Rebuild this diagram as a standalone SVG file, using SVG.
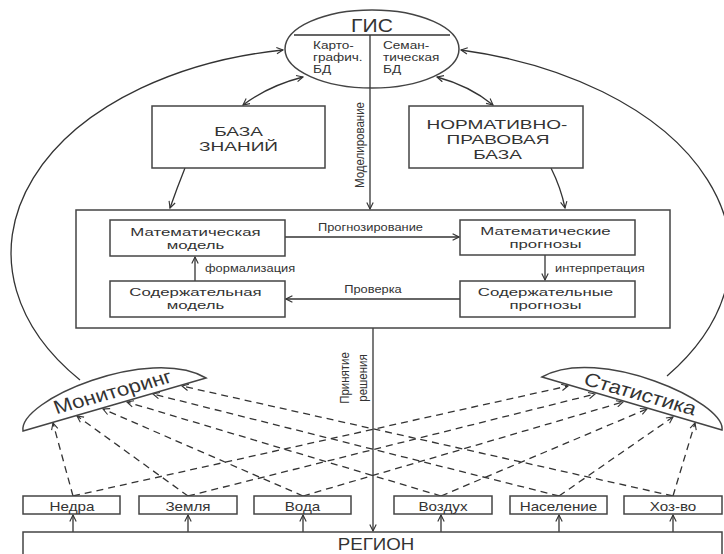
<svg xmlns="http://www.w3.org/2000/svg" width="724" height="554" viewBox="0 0 724 554">
<defs>
<marker id="ah" viewBox="0 0 10 10" refX="9" refY="5" markerWidth="8" markerHeight="8" markerUnits="userSpaceOnUse" orient="auto-start-reverse">
<path d="M1,1 L9,5 L1,9" fill="none" stroke="#333" stroke-width="1.4"/>
</marker>
</defs>
<style>
text{font-family:"Liberation Sans",Arial,sans-serif;fill:#333}
.s{transform-box:fill-box;transform-origin:center;transform:scaleX(1.17)}
.s2{transform-box:fill-box;transform-origin:center;transform:scaleX(1.42)}
.s3{transform-box:fill-box;transform-origin:center;transform:scaleX(1.45)}
.sl{transform-box:fill-box;transform-origin:left center;transform:scaleX(1.17)}
.sd{transform-box:fill-box;transform-origin:left center;transform:scaleX(1.27)}
.c{text-anchor:middle}
.box{fill:#fff;stroke:#444;stroke-width:1.5}
.ln{fill:none;stroke:#333;stroke-width:1.3}
.ar{fill:none;stroke:#333;stroke-width:1.3;marker-end:url(#ah)}
.bi{fill:none;stroke:#333;stroke-width:1.3;marker-end:url(#ah);marker-start:url(#ah)}
.da{fill:none;stroke:#333;stroke-width:1.3;stroke-dasharray:7 5;marker-end:url(#ah)}
.big{font-size:13.4px}
.mid{font-size:11.6px}
.sm{font-size:11px}
.db{font-size:10.7px}
.rt{font-size:11.5px}
.reg{font-size:13px}
</style>

<g id="connectors">
<path class="ar" d="M80,380 A323,205.6 0 0 1 283,50"/>
<path class="ar" d="M667,376 A345.6,210 0 0 0 461,50"/>
<path class="bi" d="M303,77 Q268,86 243,105"/>
<path class="bi" d="M437,77 Q470,86 493,105"/>
<path class="ar" d="M185,168 Q177,188 170,208"/>
<path class="ar" d="M551,168 Q561,188 565,208"/>
<path class="ar" d="M370,87 L370,209"/>
<path class="ar" d="M285,237 L459,237"/>
<path class="ar" d="M545,255 L545,280"/>
<path class="ar" d="M460,299 L286,299"/>
<path class="ar" d="M195,281 L195,257"/>
<path class="ar" d="M373,328 L373,531"/>
<path class="ar" d="M73,532 L73,515"/>
<path class="ar" d="M188,532 L188,515"/>
<path class="ar" d="M303,532 L303,515"/>
<path class="ar" d="M441,532 L441,515"/>
<path class="ar" d="M559,532 L559,515"/>
<path class="ar" d="M673,532 L673,515"/>
<path class="da" d="M73,496 L53,423"/>
<path class="da" d="M188,496 L77,416"/>
<path class="da" d="M303,496 L103,409"/>
<path class="da" d="M441,496 L127,402"/>
<path class="da" d="M559,496 L153,394"/>
<path class="da" d="M673,496 L182,386"/>
<path class="da" d="M73,496 L568,386"/>
<path class="da" d="M188,496 L595,394"/>
<path class="da" d="M303,496 L623,402"/>
<path class="da" d="M441,496 L647,409"/>
<path class="da" d="M559,496 L673,417"/>
<path class="da" d="M673,496 L695,423"/>
<text class="sm c s" x="370.5" y="231">Прогнозирование</text>
<text class="sm c s" x="373" y="293">Проверка</text>
<text class="sm sl" x="205" y="272">формализация</text>
<text class="sm sl" x="555" y="272">интерпретация</text>
<text class="rt c" transform="translate(364,145) scale(1.17,1) rotate(-90)">Моделирование</text>
<text class="rt c" transform="translate(349,378) scale(1.17,1) rotate(-90)">Принятие</text>
<text class="rt c" transform="translate(367,378) scale(1.17,1) rotate(-90)">решения</text>
</g>

<g id="gis">
<ellipse class="box" cx="372" cy="49" rx="87" ry="39"/>
<path class="ln" d="M294,35 L450,35 M370,35 L370,88"/>
<text class="c s" x="372" y="32" style="font-size:18px">ГИС</text>
<text class="db sd" x="313" y="49.5">Карто-</text>
<text class="db sd" x="313" y="61.5">графич.</text>
<text class="db sd" x="313" y="73.5">БД</text>
<text class="db sd" x="383" y="49.5">Семан-</text>
<text class="db sd" x="383" y="61.5">тическая</text>
<text class="db sd" x="383" y="73.5">БД</text>
</g>

<g id="baza-znaniy">
<rect class="box" x="152" y="106" width="173" height="62"/>
<text class="big c s2" x="238.5" y="136.5">БАЗА</text>
<text class="big c s2" x="238.5" y="151.5">ЗНАНИЙ</text>
</g>

<g id="normativnaya-baza">
<rect class="box" x="409" y="106" width="174" height="62"/>
<text class="big c s2" x="497" y="129">НОРМАТИВНО-</text>
<text class="big c s2" x="498" y="144">ПРАВОВАЯ</text>
<text class="big c s2" x="497.5" y="159">БАЗА</text>
</g>

<g id="modelirovanie">
<rect class="box" x="76" y="210" width="594" height="118" style="fill:none"/>
</g>

<g id="mat-model">
<rect class="box" x="110" y="220" width="175" height="36"/>
<text class="mid c s3" x="195.5" y="236">Математическая</text>
<text class="mid c s3" x="195.5" y="249">модель</text>
</g>

<g id="sod-model">
<rect class="box" x="110" y="281" width="175" height="36"/>
<text class="mid c s3" x="195.5" y="296.5">Содержательная</text>
<text class="mid c s3" x="195.5" y="309.5">модель</text>
</g>

<g id="mat-prognozy">
<rect class="box" x="460" y="220" width="175" height="35"/>
<text class="mid c s3" x="545.5" y="235.5">Математические</text>
<text class="mid c s3" x="545.5" y="248.5">прогнозы</text>
</g>

<g id="sod-prognozy">
<rect class="box" x="460" y="281" width="175" height="36"/>
<text class="mid c s3" x="545.5" y="296.5">Содержательные</text>
<text class="mid c s3" x="545.5" y="309.5">прогнозы</text>
</g>

<g id="monitoring">
<path class="box" d="M23,431 C18,400 150,345 206,378 Z"/>
<text class="c" style="font-size:19px" transform="translate(115,398) scale(1.17,1) rotate(-18)">Мониторинг</text>
</g>

<g id="statistika">
<path class="box" d="M722,430 C726,402 598,345 542,377 Z"/>
<text class="c" style="font-size:19px" transform="translate(638,400) scale(1.17,1) rotate(18)">Статистика</text>
</g>

<g id="nedra">
<rect class="box" x="23" y="496" width="97" height="18"/>
<text class="reg c s" x="72" y="511">Недра</text>
</g>
<g id="zemlya">
<rect class="box" x="139" y="496" width="98" height="18"/>
<text class="reg c s" x="188" y="511">Земля</text>
</g>
<g id="voda">
<rect class="box" x="254" y="496" width="97" height="18"/>
<text class="reg c s" x="302.5" y="511">Вода</text>
</g>
<g id="vozduh">
<rect class="box" x="394" y="496" width="98" height="18"/>
<text class="reg c s" x="443" y="511">Воздух</text>
</g>
<g id="naselenie">
<rect class="box" x="510" y="496" width="97" height="18"/>
<text class="reg c s" x="558.5" y="511">Население</text>
</g>
<g id="hozvo">
<rect class="box" x="624" y="496" width="98" height="18"/>
<text class="reg c s" x="673" y="511">Хоз-во</text>
</g>

<g id="region">
<rect class="box" x="23" y="532" width="699" height="40"/>
<text class="c s" x="376" y="550" style="font-size:16px">РЕГИОН</text>
</g>
</svg>
